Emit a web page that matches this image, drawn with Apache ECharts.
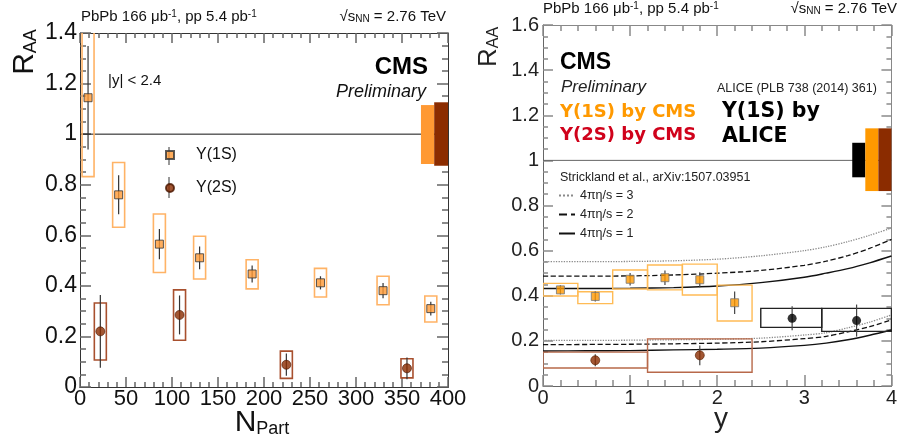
<!DOCTYPE html>
<html><head><meta charset="utf-8">
<script src="https://cdn.jsdelivr.net/npm/echarts@6/dist/echarts.min.js"></script>
<style>html,body{margin:0;padding:0;background:#fff}#c{width:900px;height:443px}</style>
</head><body><div id="c"></div>
<script>
// ===== Left panel: R_AA vs N_Part =====
const npart1S   = [8.75, 42.0, 86.3, 130.0, 187.1, 261.4, 329.4, 381.3];
const raa1S     = [1.144, 0.76, 0.565, 0.511, 0.447, 0.412, 0.381, 0.31];
const stat1S    = [0.205, 0.077, 0.06, 0.045, 0.034, 0.026, 0.03, 0.027];
const systLo1S  = [0.832, 0.632, 0.453, 0.427, 0.388, 0.356, 0.325, 0.257];
const systHi1S  = [1.456, 0.888, 0.684, 0.596, 0.503, 0.469, 0.438, 0.36];

const npart2S   = [22.1, 108.2, 224.3, 355.4];
const raa2S     = [0.22, 0.285, 0.088, 0.074];
const stat2S    = [0.144, 0.077, 0.044, 0.043];
const systLo2S  = [0.107, 0.185, 0.034, 0.036];
const systHi2S  = [0.332, 0.384, 0.142, 0.112];

// global uncertainty boxes [xFrom, xTo, low, high]
const globalLeft1S = [370.6, 385, 0.882, 1.115];
const globalLeft2S = [385, 400, 0.875, 1.126];
const unityLeftX = [0, 400];

// ===== Right panel: R_AA vs y =====
const rapLo1S   = [0, 0.4, 0.8, 1.2, 1.6, 2.0];
const rapHi1S   = [0.4, 0.8, 1.2, 1.6, 2.0, 2.4];
const rapC1S    = [0.2, 0.6, 1.0, 1.4, 1.8, 2.2];
const raaY1S    = [0.426, 0.397, 0.473, 0.48, 0.471, 0.369];
const statY1S   = [0.02, 0.022, 0.028, 0.032, 0.033, 0.05];
const systLoY1S = [0.399, 0.365, 0.43, 0.426, 0.403, 0.288];
const systHiY1S = [0.455, 0.418, 0.514, 0.536, 0.54, 0.447];

const rapLo2S   = [0, 1.2];
const rapHi2S   = [1.2, 2.4];
const rapC2S    = [0.6, 1.8];
const raaY2S    = [0.114, 0.136];
const statY2S   = [0.027, 0.044];
const systLoY2S = [0.08, 0.061];
const systHiY2S = [0.15, 0.209];

const rapLoAl   = [2.5, 3.2];
const rapHiAl   = [3.2, 4.0];
const rapCAl    = [2.86, 3.6];
const raaAl     = [0.30, 0.29];
const statAl    = [0.053, 0.071];
const systLoAl  = [0.26, 0.242];
const systHiAl  = [0.344, 0.344];

const globalRightAl = [3.55, 3.70, 0.925, 1.078];
const globalRight1S = [3.70, 3.85, 0.864, 1.142];
const globalRight2S = [3.85, 4.0, 0.864, 1.142];
const unityRightX = [0, 4];

// Strickland et al. model curves
const curveRap   = [0, 0.5, 1, 1.5, 2, 2.5, 3, 3.25, 3.5, 3.75, 4];
const model1S_1  = [0.432, 0.432, 0.433, 0.436, 0.443, 0.458, 0.482, 0.500, 0.520, 0.546, 0.576];
const model1S_2  = [0.487, 0.487, 0.488, 0.492, 0.500, 0.512, 0.535, 0.553, 0.578, 0.610, 0.650];
const model1S_3  = [0.551, 0.551, 0.552, 0.555, 0.562, 0.577, 0.600, 0.617, 0.640, 0.668, 0.700];
const model2S_1  = [0.155, 0.156, 0.157, 0.160, 0.163, 0.168, 0.180, 0.190, 0.205, 0.225, 0.248];
const model2S_2  = [0.183, 0.184, 0.185, 0.187, 0.190, 0.196, 0.210, 0.220, 0.240, 0.263, 0.293];
const model2S_3  = [0.202, 0.202, 0.203, 0.205, 0.207, 0.212, 0.226, 0.236, 0.258, 0.283, 0.315];

const curveNames = ['4πη/s = 3', '4πη/s = 2', '4πη/s = 1'];

// ===== styling =====
const F = "'Liberation Sans', Arial, sans-serif";
const FB = "'DejaVu Sans', sans-serif";
const C1S = '#ff9933', C1Sbox = '#ffb366';
const C1Sr = '#ff9900', C1Srbox = '#ffbb55';
const C2S = '#8b2c00', C2Sbox = '#a8502e', C2Srbox = '#b8694a';

function zip() { const a = arguments; return a[0].map((_, i) => Array.prototype.map.call(a, arr => arr[i])); }

function errBoxNpart(boxColor) {
  return function (params, api) {
    const x = api.value(0), y = api.value(1), st = api.value(2), lo = api.value(3), hi = api.value(4);
    const t = api.coord([x, hi]), b = api.coord([x, lo]);
    const s1 = api.coord([x, y + st]), s2 = api.coord([x, y - st]);
    const hw = 6;
    return { type: 'group', children: [
      { type: 'rect', shape: { x: t[0] - hw, y: t[1], width: 2 * hw, height: b[1] - t[1] },
        style: { fill: 'none', stroke: boxColor, lineWidth: 1.6 } },
      { type: 'line', shape: { x1: s1[0], y1: s1[1], x2: s2[0], y2: s2[1] },
        style: { stroke: '#333', lineWidth: 1.2 } }
    ] };
  };
}
function errBoxRap(boxColor) {
  return function (params, api) {
    const xl = api.value(0), xh = api.value(1), xc = api.value(2), y = api.value(3),
          st = api.value(4), lo = api.value(5), hi = api.value(6);
    const a = api.coord([xl, hi]), b = api.coord([xh, lo]);
    const s1 = api.coord([xc, y + st]), s2 = api.coord([xc, y - st]);
    return { type: 'group', children: [
      { type: 'rect', shape: { x: a[0], y: a[1], width: b[0] - a[0], height: b[1] - a[1] },
        style: { fill: 'none', stroke: boxColor, lineWidth: 1.4 } },
      { type: 'line', shape: { x1: s1[0], y1: s1[1], x2: s2[0], y2: s2[1] },
        style: { stroke: '#444', lineWidth: 1.2 } }
    ] };
  };
}
function globalBox(color) {
  return function (params, api) {
    const a = api.coord([api.value(0), api.value(3)]), b = api.coord([api.value(1), api.value(2)]);
    return { type: 'rect', shape: { x: a[0], y: a[1], width: b[0] - a[0], height: b[1] - a[1] },
      style: { fill: color } };
  };
}

const TL = '#666';  // left tick colour
const TR = '#8a8a8a';  // right tick colour
function axis(gridIndex, min, max, interval, position, minorSplit, tickLen, minorLen, lineColor, tickColor, label, noTicks) {
  return {
    type: 'value', gridIndex: gridIndex, min: min, max: max, interval: interval, position: position,
    splitLine: { show: false },
    axisLine: { show: true, onZero: false, lineStyle: { color: lineColor, width: 1 } },
    axisTick: { show: !noTicks, inside: true, length: tickLen, lineStyle: { color: tickColor, width: 1.5 } },
    minorTick: { show: !noTicks, splitNumber: minorSplit, length: minorLen, lineStyle: { color: tickColor, width: 1.5 } },
    axisLabel: label ? Object.assign({ show: true, fontFamily: F, color: '#111' }, label) : { show: false }
  };
}

const chart = echarts.init(document.getElementById('c'), null, { renderer: 'canvas' });

const xAxes = [
  axis(0, 0, 400, 50, 'bottom', 5, 10, 5, '#333', TL, { fontSize: 22, margin: 1 }, true),
  axis(0, 0, 400, 50, 'top', 5, 10, 5, '#333', TL, null),
  axis(1, 0, 4, 1, 'bottom', 5, 11, 6, '#666', TR, { fontSize: 20, margin: 2, color: '#222' }),
  axis(1, 0, 4, 1, 'top', 5, 11, 6, '#888', TR, null),
  axis(0, 0, 400, 50, 'bottom', 5, 10, 5, '#333', TL, null)   // tick-only twin of the N_Part axis
];
const yAxes = [
  axis(0, 0, 1.4, 0.2, 'left', 4, 11, 6, '#333', TL, { fontSize: 23, margin: 3 }),
  axis(0, 0, 1.4, 0.2, 'right', 4, 11, 6, '#333', TL, null),
  axis(1, 0, 1.6, 0.2, 'left', 4, 10, 5, '#666', TR, { fontSize: 20, margin: 4, color: '#222' }),
  axis(1, 0, 1.6, 0.2, 'right', 4, 10, 5, '#888', TR, null)
];

const curveStyles = [
  { type: 'dotted', color: '#8a8a8a', width: 1.3 },
  { type: 'dashed', color: '#111', width: 1.3 },
  { type: 'solid', color: '#111', width: 1.4 }
];
const models1S = [model1S_3, model1S_2, model1S_1];
const models2S = [model2S_3, model2S_2, model2S_1];
const curveSeries = [];
[models1S, models2S].forEach(set => set.forEach((arr, k) => {
  curveSeries.push({
    name: curveNames[k], type: 'line', xAxisIndex: 2, yAxisIndex: 2, smooth: 0.3,
    symbol: 'none', silent: true, z: 2,
    lineStyle: curveStyles[k], itemStyle: { color: curveStyles[k].color },
    data: zip(curveRap, arr)
  });
}));

const series = [
  // ---- left panel ----
  { type: 'line', xAxisIndex: 0, yAxisIndex: 0, symbol: 'none', z: 1, silent: true,
    lineStyle: { color: '#111', width: 1 }, data: zip(unityLeftX, [1, 1]) },
  { type: 'custom', xAxisIndex: 0, yAxisIndex: 0, clip: true, z: 3, renderItem: globalBox(C1S), data: [globalLeft1S] },
  { type: 'custom', xAxisIndex: 0, yAxisIndex: 0, clip: true, z: 3, renderItem: globalBox(C2S), data: [globalLeft2S] },
  { type: 'custom', xAxisIndex: 0, yAxisIndex: 0, clip: true, z: 3, renderItem: errBoxNpart(C1Sbox),
    data: zip(npart1S, raa1S, stat1S, systLo1S, systHi1S) },
  { type: 'custom', xAxisIndex: 0, yAxisIndex: 0, clip: true, z: 3, renderItem: errBoxNpart(C2Sbox),
    data: zip(npart2S, raa2S, stat2S, systLo2S, systHi2S) },
  { name: 'Υ(1S)', type: 'scatter', xAxisIndex: 0, yAxisIndex: 0, z: 5, symbol: 'rect', symbolSize: 8,
    itemStyle: { color: C1S, borderColor: '#333', borderWidth: 1 }, data: zip(npart1S, raa1S) },
  { name: 'Υ(2S)', type: 'scatter', xAxisIndex: 0, yAxisIndex: 0, z: 5, symbol: 'circle', symbolSize: 9,
    itemStyle: { color: C2S, borderColor: '#4a1600', borderWidth: 0.8 }, data: zip(npart2S, raa2S) },
  // ---- right panel ----
  { type: 'line', xAxisIndex: 2, yAxisIndex: 2, symbol: 'none', z: 1, silent: true,
    lineStyle: { color: '#666', width: 1 }, data: zip(unityRightX, [1, 1]) },
  ...curveSeries,
  { type: 'custom', xAxisIndex: 2, yAxisIndex: 2, clip: true, z: 3, renderItem: globalBox('#000'), data: [globalRightAl] },
  { type: 'custom', xAxisIndex: 2, yAxisIndex: 2, clip: true, z: 3, renderItem: globalBox(C1Sr), data: [globalRight1S] },
  { type: 'custom', xAxisIndex: 2, yAxisIndex: 2, clip: true, z: 3, renderItem: globalBox(C2S), data: [globalRight2S] },
  { type: 'custom', xAxisIndex: 2, yAxisIndex: 2, clip: true, z: 3, renderItem: errBoxRap(C1Srbox),
    data: zip(rapLo1S, rapHi1S, rapC1S, raaY1S, statY1S, systLoY1S, systHiY1S) },
  { type: 'custom', xAxisIndex: 2, yAxisIndex: 2, clip: true, z: 3, renderItem: errBoxRap(C2Srbox),
    data: zip(rapLo2S, rapHi2S, rapC2S, raaY2S, statY2S, systLoY2S, systHiY2S) },
  { type: 'custom', xAxisIndex: 2, yAxisIndex: 2, clip: true, z: 3, renderItem: errBoxRap('#222'),
    data: zip(rapLoAl, rapHiAl, rapCAl, raaAl, statAl, systLoAl, systHiAl) },
  { name: 'Y(1S) by CMS', type: 'scatter', xAxisIndex: 2, yAxisIndex: 2, z: 5, symbol: 'rect', symbolSize: 8,
    itemStyle: { color: C1Sr, borderColor: '#777', borderWidth: 1 }, data: zip(rapC1S, raaY1S) },
  { name: 'Y(2S) by CMS', type: 'scatter', xAxisIndex: 2, yAxisIndex: 2, z: 5, symbol: 'circle', symbolSize: 9,
    itemStyle: { color: C2S, borderColor: '#5a2000', borderWidth: 0.8 }, data: zip(rapC2S, raaY2S) },
  { name: 'Y(1S) by ALICE', type: 'scatter', xAxisIndex: 2, yAxisIndex: 2, z: 5, symbol: 'circle', symbolSize: 9,
    itemStyle: { color: '#000' }, data: zip(rapCAl, raaAl) }
];

function txt(x, y, text, o) {
  return { type: 'text', x: x, y: y, silent: true, z: 20,
    style: Object.assign({ text: text, fontFamily: F, fontSize: 15, fill: '#111',
      align: 'left', verticalAlign: 'middle' }, o || {}) };
}
const rich = {
  n: { fontFamily: F, fontSize: 15, fill: '#111' },
  s: { fontFamily: F, fontSize: 10, fill: '#111', verticalAlign: 'top' },
  b: { fontFamily: F, fontSize: 10, fill: '#111', verticalAlign: 'bottom' }
};
const hdrL = '{n|PbPb 166 μb}{s|-1}{n|, pp 5.4 pb}{s|-1}';
const hdrR = '{n|√s}{b|NN}{n| = 2.76 TeV}';

const graphics = [
  // left panel texts
  txt(81, 17, hdrL, { rich: rich }),
  txt(446, 17, hdrR, { rich: rich, align: 'right' }),
  { type: 'text', x: 25, y: 52, rotation: Math.PI / 2, silent: true,
    style: { text: '{r|R}{a|AA}', align: 'center', verticalAlign: 'middle',
      rich: { r: { fontFamily: F, fontSize: 30, fill: '#111' }, a: { fontFamily: F, fontSize: 18, fill: '#111', verticalAlign: 'bottom' } } } },
  txt(108, 81, '|y| < 2.4', { fontSize: 15 }),
  txt(428, 67, 'CMS', { align: 'right', fontSize: 24, fontWeight: 'bold', fill: '#000' }),
  txt(426, 92, 'Preliminary', { align: 'right', fontSize: 18, fontStyle: 'italic' }),
  { type: 'text', x: 262, y: 423, silent: true,
    style: { text: '{r|N}{a|Part}', align: 'center', verticalAlign: 'middle',
      rich: { r: { fontFamily: F, fontSize: 30, fill: '#111' }, a: { fontFamily: F, fontSize: 18, fill: '#111', verticalAlign: 'bottom' } } } },
  { type: 'line', silent: true, shape: { x1: 169, y1: 147, x2: 169, y2: 165 }, style: { stroke: '#333', lineWidth: 1 } },
  { type: 'line', silent: true, shape: { x1: 169, y1: 177, x2: 169, y2: 198 }, style: { stroke: '#333', lineWidth: 1 } },
  // right panel texts
  txt(543, 9, hdrL, { rich: rich }),
  txt(897, 9, hdrR, { rich: rich, align: 'right' }),
  { type: 'text', x: 489, y: 47, rotation: Math.PI / 2, silent: true,
    style: { text: '{r|R}{a|AA}', align: 'center', verticalAlign: 'middle',
      rich: { r: { fontFamily: F, fontSize: 26, fill: '#222' }, a: { fontFamily: F, fontSize: 16, fill: '#222', verticalAlign: 'bottom' } } } },
  txt(560, 63, 'CMS', { fontSize: 23, fontWeight: 'bold', fill: '#000' }),
  txt(561, 87, 'Preliminary', { fontSize: 17, fontStyle: 'italic', fill: '#222' }),
  txt(717, 89, 'ALICE (PLB 738 (2014) 361)', { fontSize: 12.5, fill: '#222' }),
  txt(560, 112, 'Y(1S) by CMS', { fontFamily: FB, fontSize: 18, fontWeight: 'bold', fill: '#ff9900' }),
  txt(560, 135, 'Y(2S) by CMS', { fontFamily: FB, fontSize: 18, fontWeight: 'bold', fill: '#d0021b' }),
  txt(722, 112, 'Y(1S) by', { fontFamily: FB, fontSize: 20.5, fontWeight: 'bold', fill: '#000' }),
  txt(722, 137, 'ALICE', { fontFamily: FB, fontSize: 20.5, fontWeight: 'bold', fill: '#000' }),
  txt(560, 178, 'Strickland et al., arXiv:1507.03951', { fontSize: 12.5, fill: '#222' }),
  txt(721, 419, 'y', { fontSize: 28, align: 'center', fill: '#222' })
];

chart.setOption({
  animation: false,
  backgroundColor: '#fff',
  grid: [
    { left: 80, top: 33, width: 368, height: 354, containLabel: false },
    { left: 543, top: 25, width: 354, height: 361, containLabel: false }
  ],
  xAxis: xAxes,
  yAxis: yAxes,
  legend: [
    { data: ['Υ(1S)', 'Υ(2S)'], left: 165, top: 147, orient: 'vertical', selectedMode: false,
      itemWidth: 8, itemHeight: 8, itemGap: 17, padding: 0,
      textStyle: { fontFamily: F, fontSize: 16, color: '#111', padding: [0, 0, 0, 17] } },
    { data: curveNames, left: 558, top: 189, orient: 'vertical', selectedMode: false,
      itemWidth: 16, itemHeight: 10, itemGap: 6, padding: 0,
      itemStyle: { opacity: 0 },
      textStyle: { fontFamily: F, fontSize: 12.5, color: '#222' } }
  ],
  graphic: graphics,
  series: series
});
</script></body></html>
